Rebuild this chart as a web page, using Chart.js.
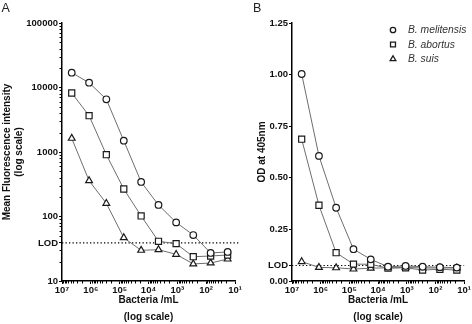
<!DOCTYPE html>
<html>
<head>
<meta charset="utf-8">
<script src="https://cdn.jsdelivr.net/npm/chart.js@4/dist/chart.umd.min.js"></script>
<style>
  html, body { margin: 0; padding: 0; background: #fff; }
  #wrap { position: relative; width: 472px; height: 324px; }
  canvas { position: absolute; left: 0; top: 0; }
</style>
</head>
<body>
<div id="wrap">
  <canvas id="chartA" width="472" height="324"></canvas>
  <canvas id="chartB" width="472" height="324"></canvas>
</div>
<script>
// bacteria per mL (4-fold dilutions)
var concentration = [4.6e6, 1.15e6, 2.9e5, 7.2e4, 1.8e4, 4.5e3, 1.1e3, 280, 70, 18];
var seriesNames = ['B. melitensis', 'B. abortus', 'B. suis'];

// panel A: mean fluorescence intensity
var mfiMelitensis = [16950, 11870, 6560, 1496, 343, 151, 81, 51.6, 27.2, 28.2];
var mfiAbortus = [8220, 3655, 908, 267, 102, 41.3, 37.9, 23.8, 24.4, 25.3];
var mfiSuis = [1630, 359, 160, 46.9, 29.9, 30.6, 25.9, 18.4, 19.0, 21.9];
var mfiLod = 39;
var mfiLodSpan = [1e7, 7];

// panel B: OD at 405nm
var odMelitensis = [1.003, 0.606, 0.355, 0.154, 0.105, 0.069, 0.073, 0.069, 0.067, 0.065];
var odAbortus = [0.687, 0.367, 0.137, 0.082, 0.081, 0.062, 0.064, 0.053, 0.057, 0.053];
var odSuis = [0.094, 0.066, 0.064, 0.058, 0.062, 0.064, 0.066, 0.063, 0.063, 0.063];
var odLod = 0.075;
var odLodSpan = [1e7, 10];

var xTicks = [1e7, 1e6, 1e5, 1e4, 1e3, 1e2, 1e1];
var xTickLabels = ['10⁷', '10⁶', '10⁵', '10⁴', '10³', '10²', '10¹'];
var mfiTicks = [10, mfiLod, 100, 1000, 10000, 100000];
var odTicks = [0, odLod, 0.25, 0.5, 0.75, 1.0, 1.25];

var FONT = '"Liberation Sans", Arial, Helvetica, sans-serif';
var INK = '#111';
var markers = ['circle', 'rect', 'triangle'];
var markerRadius = [3.3, 4.3, 3.9];

function seriesDataset(i, values) {
  return {
    label: seriesNames[i],
    data: values.map(function (v, j) { return { x: concentration[j], y: v }; }),
    borderColor: '#6e6e6e',
    borderWidth: 1,
    pointStyle: markers[i],
    pointRadius: markerRadius[i],
    pointBackgroundColor: '#fff',
    pointBorderColor: '#1a1a1a',
    pointBorderWidth: 1.2,
    tension: 0
  };
}

function lodDataset(value, span) {
  return {
    label: 'LOD',
    data: span.map(function (x) { return { x: x, y: value }; }),
    borderColor: '#000',
    borderWidth: 1.2,
    borderDash: [1.3, 2.2],
    pointRadius: 0,
    clip: false
  };
}

var gridOpts = { drawOnChartArea: false, drawTicks: true, tickLength: 3, color: '#000', lineWidth: 1 };
var borderOpts = { color: '#000', width: 1.5 };
var tickFont = { family: FONT, size: 9.5, weight: 'bold' };
var titleFont = { family: FONT, size: 10, weight: 'bold', lineHeight: 1.2 };

function xAxis() {
  return {
    type: 'logarithmic',
    reverse: true,
    min: 10,
    max: 1e7,
    afterBuildTicks: function (s) { s.ticks = xTicks.map(function (v) { return { value: v }; }); },
    afterFit: function (s) { s.height = 43; },
    ticks: {
      autoSkip: false, maxRotation: 0, padding: 1, color: INK, font: tickFont,
      callback: function (v) { return xTickLabels[xTicks.indexOf(v)]; }
    },
    grid: gridOpts,
    border: borderOpts,
    title: {
      display: true, text: ['Bacteria /mL', '(log scale)'], color: INK,
      font: { family: FONT, size: 10, weight: 'bold', lineHeight: 1.7 },
      padding: { top: 0, bottom: -2 }
    }
  };
}

function minorTicks(yLog) {
  return {
    id: 'minorTicks',
    afterDraw: function (chart) {
      var ctx = chart.ctx, xs = chart.scales.x, ys = chart.scales.y;
      ctx.save();
      ctx.strokeStyle = '#000';
      ctx.lineWidth = 1;
      ctx.beginPath();
      for (var k = 1; k < 7; k++) {
        for (var m = 2; m < 10; m++) {
          var px = Math.round(xs.getPixelForValue(m * Math.pow(10, k))) + 0.5;
          ctx.moveTo(px, xs.top);
          ctx.lineTo(px, xs.top + 2.5);
        }
      }
      if (yLog) {
        for (var k2 = 1; k2 < 5; k2++) {
          for (var m2 = 2; m2 < 10; m2++) {
            var py = Math.round(ys.getPixelForValue(m2 * Math.pow(10, k2))) + 0.5;
            ctx.moveTo(ys.right, py);
            ctx.lineTo(ys.right - 2.5, py);
          }
        }
      }
      ctx.stroke();
      ctx.restore();
    }
  };
}

function panelLabel(text, x) {
  return {
    id: 'panelLabel',
    afterDraw: function (chart) {
      var ctx = chart.ctx;
      ctx.save();
      ctx.fillStyle = '#222';
      ctx.font = '12.5px ' + FONT;
      ctx.textBaseline = 'alphabetic';
      ctx.fillText(text, x, 12);
      ctx.restore();
    }
  };
}

var legendBox = {
  id: 'legendBox',
  afterDraw: function (chart) {
    var ctx = chart.ctx;
    ctx.save();
    ctx.font = 'italic 10.3px ' + FONT;
    ctx.textBaseline = 'middle';
    var legendRadius = [2.7, 3.5, 3.3];
    for (var i = 0; i < seriesNames.length; i++) {
      var y = 30 + i * 14.5;
      ctx.fillStyle = '#fff';
      ctx.strokeStyle = '#1a1a1a';
      ctx.lineWidth = 1.3;
      Chart.helpers.drawPoint(ctx, { pointStyle: markers[i], radius: legendRadius[i], borderWidth: 1.3, rotation: 0 }, 393, y);
      ctx.fillStyle = '#333';
      ctx.fillText(seriesNames[i], 408, y + 0.5);
    }
    ctx.restore();
  }
};

var chartA = new Chart(document.getElementById('chartA'), {
  type: 'line',
  data: {
    datasets: [
      seriesDataset(0, mfiMelitensis),
      seriesDataset(1, mfiAbortus),
      seriesDataset(2, mfiSuis),
      lodDataset(mfiLod, mfiLodSpan)
    ]
  },
  options: {
    animation: false,
    responsive: false,
    layout: { padding: { top: 23, left: 0, right: 237, bottom: 0 } },
    plugins: { legend: { display: false }, tooltip: { enabled: false } },
    scales: {
      x: xAxis(),
      y: {
        type: 'logarithmic',
        min: 10,
        max: 100000,
        afterBuildTicks: function (s) { s.ticks = mfiTicks.map(function (v) { return { value: v }; }); },
        afterFit: function (s) { s.width = 62; },
        ticks: {
          autoSkip: false, padding: 1, color: INK, font: tickFont,
          callback: function (v) { return v === mfiLod ? 'LOD' : String(v); }
        },
        grid: gridOpts,
        border: borderOpts,
        title: {
          display: true, text: ['Mean Fluorescence intensity', '(log scale)'], color: INK,
          font: titleFont, padding: { top: 1, bottom: 0 }
        }
      }
    }
  },
  plugins: [minorTicks(true), panelLabel('A', 1.5)]
});

var chartB = new Chart(document.getElementById('chartB'), {
  type: 'line',
  data: {
    datasets: [
      seriesDataset(0, odMelitensis),
      seriesDataset(1, odAbortus),
      seriesDataset(2, odSuis),
      lodDataset(odLod, odLodSpan)
    ]
  },
  options: {
    animation: false,
    responsive: false,
    layout: { padding: { top: 23, left: 252, right: 7, bottom: 0 } },
    plugins: { legend: { display: false }, tooltip: { enabled: false } },
    scales: {
      x: xAxis(),
      y: {
        type: 'linear',
        min: 0,
        max: 1.25,
        afterBuildTicks: function (s) { s.ticks = odTicks.map(function (v) { return { value: v }; }); },
        afterFit: function (s) { s.width = 40; },
        ticks: {
          autoSkip: false, padding: 1, color: INK, font: tickFont,
          callback: function (v) { return v === odLod ? 'LOD' : v.toFixed(2); }
        },
        grid: gridOpts,
        border: borderOpts,
        title: {
          display: true, text: 'OD at 405nm', color: INK,
          font: titleFont, padding: { top: 4, bottom: 0 }
        }
      }
    }
  },
  plugins: [minorTicks(false), panelLabel('B', 253), legendBox]
});
</script>
</body>
</html>
